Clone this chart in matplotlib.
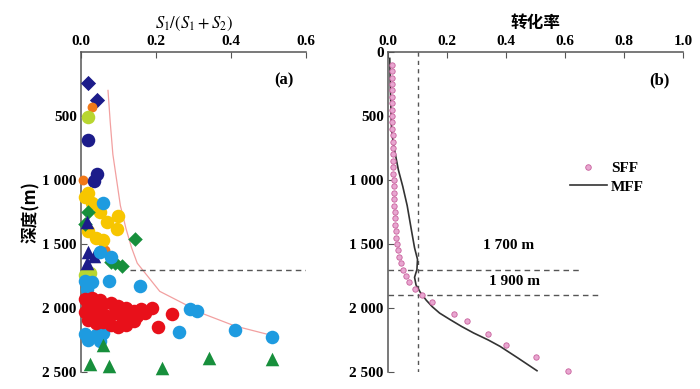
import matplotlib
matplotlib.use("Agg")
import matplotlib.pyplot as plt
from matplotlib.lines import Line2D

plt.rcParams['font.family'] = ['Liberation Serif', 'Noto Sans CJK SC', 'DejaVu Sans']
plt.rcParams['mathtext.fontset'] = 'stix'

# ---- painel (a): S1/(S1+S2) x profundidade ----
navy_diam_x = [0.019, 0.043]
navy_diam_d = [240, 372]
navy_circ_x = [0.019, 0.043, 0.035]
navy_circ_d = [690, 950, 1010]
navy_tri_x = [0.015, 0.02, 0.035, 0.015]
navy_tri_d = [1330, 1560, 1590, 1650]
yg_circ_x = [0.019, 0.012, 0.025]
yg_circ_d = [510, 1740, 1725]
orange_x = [0.03, 0.005, 0.065]
orange_d = [430, 1000, 1545]
yellow_x = [0.02, 0.01, 0.03, 0.05, 0.10, 0.07, 0.095, 0.02, 0.04, 0.06]
yellow_d = [1100, 1130, 1180, 1250, 1280, 1330, 1380, 1400, 1450, 1470]
green_diam_x = [0.02, 0.01, 0.144, 0.08, 0.09, 0.11]
green_diam_d = [1250, 1340, 1460, 1640, 1650, 1670]
lblue_x = [0.06, 0.05, 0.08, 0.01, 0.03, 0.075, 0.015, 0.157, 0.29, 0.31,
           0.26, 0.41, 0.51, 0.01, 0.04, 0.06, 0.02, 0.05]
lblue_d = [1180, 1560, 1600, 1790, 1800, 1790, 1850, 1830, 2010, 2020,
           2190, 2175, 2225, 2200, 2210, 2195, 2250, 2260]
red_x = [0.01, 0.03, 0.05, 0.02, 0.04, 0.06, 0.08, 0.10, 0.12, 0.14, 0.16, 0.19,
         0.243, 0.205, 0.01, 0.03, 0.05, 0.07, 0.09, 0.11, 0.13, 0.15, 0.06, 0.08,
         0.10, 0.12, 0.04, 0.02, 0.17, 0.14]
red_d = [1930, 1920, 1940, 1980, 1990, 1970, 1960, 1985, 2000, 2020, 2010, 1997,
         2050, 2150, 2030, 2050, 2040, 2060, 2040, 2070, 2090, 2060, 2110, 2130,
         2150, 2130, 2120, 2090, 2040, 2100]
green_tri_x = [0.06, 0.024, 0.075, 0.215, 0.34, 0.51]
green_tri_d = [2290, 2440, 2450, 2470, 2390, 2400]

# curva de tendência (rosa)
trend_x = [0.072, 0.078, 0.085, 0.095, 0.105, 0.12, 0.135, 0.15, 0.18, 0.21, 0.27, 0.33, 0.41, 0.51]
trend_d = [300, 550, 800, 1000, 1200, 1380, 1530, 1650, 1760, 1870, 1960, 2050, 2140, 2215]

# ---- painel (b): taxa de conversão ----
sff_x = [0.012, 0.012, 0.013, 0.013, 0.013, 0.014, 0.014, 0.014, 0.015, 0.015,
         0.015, 0.016, 0.016, 0.016, 0.017, 0.017, 0.018, 0.018, 0.019, 0.019,
         0.020, 0.021, 0.022, 0.023, 0.024, 0.025, 0.026, 0.028, 0.030, 0.033,
         0.037, 0.043, 0.050, 0.060, 0.072, 0.090, 0.115, 0.150, 0.225, 0.268,
         0.340, 0.400, 0.500, 0.610]
sff_d = [100, 150, 200, 250, 300, 350, 400, 450, 500, 550,
         600, 650, 700, 750, 800, 850, 900, 950, 1000, 1050,
         1100, 1150, 1200, 1250, 1300, 1350, 1400, 1450, 1500, 1550,
         1600, 1650, 1700, 1750, 1800, 1850, 1900, 1950, 2050, 2100,
         2200, 2290, 2380, 2490]
mff_x = [0.006, 0.008, 0.012, 0.018, 0.025, 0.035, 0.05, 0.065, 0.08, 0.09, 0.10,
         0.098, 0.09, 0.095, 0.11, 0.13, 0.15, 0.175, 0.21, 0.25, 0.29, 0.34,
         0.38, 0.44, 0.505]
mff_d = [50, 300, 600, 720, 800, 920, 1050, 1200, 1400, 1530, 1620,
         1700, 1760, 1820, 1880, 1940, 1990, 2040, 2090, 2145, 2195, 2250,
         2300, 2390, 2490]

depth_ticks = [0, 500, 1000, 1500, 2000, 2500]
depth_labels = ['0', '500', '1 000', '1 500', '2 000', '2 500']

fig = plt.figure(figsize=(7, 3.89), dpi=100)
ax1 = fig.add_axes([0.1157, 0.0437, 0.3215, 0.8226])
ax2 = fig.add_axes([0.5543, 0.0437, 0.4214, 0.8226])

for ax in (ax1, ax2):
    ax.set_ylim(2500, 0)
    ax.spines['right'].set_visible(False)
    ax.spines['bottom'].set_visible(False)
    ax.spines['left'].set_color('#555555')
    ax.spines['top'].set_color('#555555')
    ax.spines['left'].set_linewidth(1.1)
    ax.spines['top'].set_linewidth(1.1)
    ax.xaxis.tick_top()
    ax.xaxis.set_label_position('top')
    ax.tick_params(direction='in', length=4, color='#555555', labelsize=11, pad=3)

ms = 95
kw = dict(s=ms, linewidths=0, clip_on=False, zorder=3)
ax1.plot(trend_x, trend_d, color='#f2a0a0', lw=0.9, zorder=2)
ax1.scatter(navy_diam_x, navy_diam_d, marker='D', color='#1c1c8a', s=60, linewidths=0, clip_on=False, zorder=3)
ax1.scatter(orange_x, orange_d, marker='o', color='#f07818', s=50, linewidths=0, clip_on=False, zorder=3)
ax1.scatter(yg_circ_x, yg_circ_d, marker='o', color='#b8d630', **kw)
ax1.scatter(navy_circ_x, navy_circ_d, marker='o', color='#1c1c8a', **kw)
ax1.scatter(yellow_x, yellow_d, marker='o', color='#f7c600', **kw)
ax1.scatter(green_diam_x, green_diam_d, marker='D', color='#178f3c', s=55, linewidths=0, clip_on=False, zorder=3)
ax1.scatter(navy_tri_x, navy_tri_d, marker='^', color='#1c1c8a', **kw)
ax1.scatter(lblue_x, lblue_d, marker='o', color='#1e9be0', **kw)
ax1.scatter(red_x, red_d, marker='o', color='#e8101a', **kw)
ax1.scatter(green_tri_x, green_tri_d, marker='^', color='#178f3c', **kw)
ax1.plot([0.13, 0.6], [1700, 1700], ls=(0, (4, 3)), color='#555555', lw=1)

ax1.set_xlim(0, 0.6)
ax1.set_xticks([0.0, 0.2, 0.4, 0.6])
ax1.set_xticklabels(['0.0', '0.2', '0.4', '0.6'], fontweight='bold')
ax1.set_yticks(depth_ticks[1:])
ax1.set_yticklabels(depth_labels[1:], fontweight='bold')
ax1.set_xlabel('$S_1/(S_1+S_2)$', fontsize=12, labelpad=5)
ax1.set_ylabel('深度(m)', fontsize=12, family=['Noto Sans CJK SC'], fontweight='bold', labelpad=2)
ax1.text(0.54, 220, '(a)', fontsize=12, fontweight='bold', ha='center', va='center')

# painel (b)
ax2.plot([0.1, 0.1], [0, 2500], ls=(0, (3, 3)), color='#555555', lw=1)
ax2.plot([0, 0.65], [1700, 1700], ls=(0, (4, 3)), color='#555555', lw=1)
ax2.plot([0, 0.72], [1900, 1900], ls=(0, (4, 3)), color='#555555', lw=1)
ax2.plot(mff_x, mff_d, color='#333333', lw=1.2, zorder=3)
ax2.scatter(sff_x, sff_d, marker='o', s=15, facecolor='#e8a6d0', edgecolor='#c8609c',
            linewidths=0.6, clip_on=False, zorder=4)
ax2.text(0.41, 1510, '1 700 m', fontsize=11, fontweight='bold', ha='center', va='center')
ax2.text(0.43, 1790, '1 900 m', fontsize=11, fontweight='bold', ha='center', va='center')
ax2.text(0.92, 220, '(b)', fontsize=12, fontweight='bold', ha='center', va='center')

ax2.set_xlim(0, 1.0)
ax2.set_xticks([0.0, 0.2, 0.4, 0.6, 0.8, 1.0])
ax2.set_xticklabels(['0.0', '0.2', '0.4', '0.6', '0.8', '1.0'], fontweight='bold')
ax2.set_yticks(depth_ticks)
ax2.set_yticklabels(depth_labels, fontweight='bold')
ax2.set_xlabel('转化率', fontsize=12, family=['Noto Sans CJK SC'], fontweight='bold', labelpad=5)

handles = [Line2D([], [], marker='o', ls='none', markersize=4, markerfacecolor='#e8a6d0',
                  markeredgecolor='#c8609c', markeredgewidth=0.6),
           Line2D([], [], color='#333333', lw=1.2)]
ax2.legend(handles, ['SFF', 'MFF'], loc='upper left', bbox_to_anchor=(0.57, 0.7),
           frameon=False, prop={'size': 11, 'weight': 'bold'}, handlelength=2.4,
           handletextpad=0.3, labelspacing=0.3)

fig.savefig('out.png', dpi=100)
